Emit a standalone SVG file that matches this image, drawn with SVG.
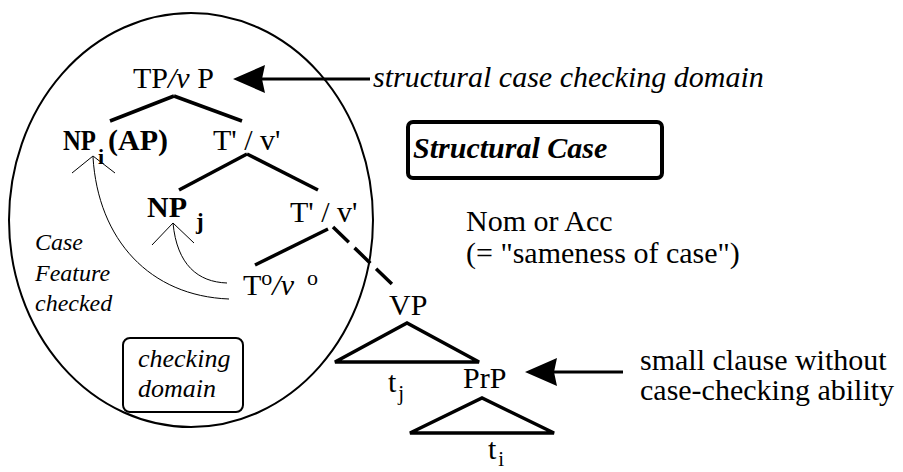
<svg xmlns="http://www.w3.org/2000/svg" width="903" height="472" viewBox="0 0 903 472" font-family="'Liberation Serif', 'DejaVu Serif', serif">
<style>
text{font-family:"Liberation Serif","DejaVu Serif",serif;fill:#000;font-size:30px}
.b{font-weight:bold}
.it{font-style:italic}
.sm{font-size:24px;font-style:italic}
.edge{stroke:#000;stroke-width:3.5;fill:none}
.thin{stroke:#000;stroke-width:1;fill:none}
.head{fill:#000;stroke:none}
</style>
<rect width="903" height="472" fill="#fff"/>
<g id="domain-ellipse">
<ellipse cx="191" cy="220" rx="182" ry="207" fill="none" stroke="#000" stroke-width="2"/>
</g>
<g id="connectors">
<line class="edge" x1="174" y1="96" x2="110" y2="121"/>
<line class="edge" x1="174" y1="96" x2="242" y2="121"/>
<line class="edge" x1="247" y1="154" x2="179" y2="190"/>
<line class="edge" x1="247" y1="154" x2="318" y2="190"/>
<line class="edge" x1="328" y1="229" x2="255" y2="265"/>
<line class="edge" x1="333" y1="227" x2="397" y2="289" stroke-dasharray="22 8"/>
<polygon class="edge" points="335,362 407,323 479,362" stroke-linejoin="miter"/>
<polygon class="edge" points="410,433 482,398 554,433" stroke-linejoin="miter"/>
<path class="thin" d="M93 157 C98 240 150 296 229 299"/>
<polyline class="thin" points="72,173 93,156 115,173"/>
<path class="thin" d="M173 223 C177 265 198 282 227 283"/>
<polyline class="thin" points="152,245 173,223 194,243"/>
<polygon class="head" points="233,79 265,65 262,79 265,93"/>
<line x1="262" y1="79" x2="370" y2="79" stroke="#000" stroke-width="3"/>
<polygon class="head" points="525,372 557,358 554,372 557,386"/>
<line x1="554" y1="372" x2="623" y2="372" stroke="#000" stroke-width="3"/>
</g>
<g id="TP">
<text x="133" y="88">TP<tspan class="it">/v</tspan> P</text>
</g>
<g id="NPi">
<text class="b" y="150"><tspan x="63" textLength="33" lengthAdjust="spacingAndGlyphs">NP</tspan><tspan x="98" y="164" style="font-size:22px">i</tspan><tspan x="108" y="150">(AP)</tspan></text>
</g>
<g id="Tbar1">
<text x="213" y="150">T' / v'</text>
</g>
<g id="NPj">
<text class="b" x="147" y="217">NP<tspan font-size="23" dx="9" dy="12">j</tspan></text>
</g>
<g id="Tbar2">
<text x="290" y="222">T' / v'</text>
</g>
<g id="T0">
<text x="243" y="295">T<tspan font-size="22" dy="-10">o</tspan><tspan class="it" dy="10">/v</tspan><tspan font-size="22" dx="13" dy="-10">o</tspan></text>
</g>
<g id="case-feature">
<text class="sm" x="35" y="250">Case</text>
<text class="sm" x="35" y="281">Feature</text>
<text class="sm" x="35" y="311">checked</text>
</g>
<g id="checking-domain">
<rect x="123" y="338" width="120" height="74" rx="7" fill="none" stroke="#000" stroke-width="2"/>
<text class="it" x="138" y="367" style="font-size:26px">checking</text>
<text class="it" x="138" y="397" style="font-size:26px">domain</text>
</g>
<g id="label-structural">
<text class="it" x="373" y="87">structural case checking domain</text>
</g>
<g id="structural-case">
<rect x="408" y="122" width="254" height="56" rx="5" fill="none" stroke="#000" stroke-width="4"/>
<text class="b it" x="413" y="158">Structural Case</text>
</g>
<g id="nom-acc">
<text x="466" y="231">Nom or Acc</text>
<text x="466" y="263">(= "sameness of case")</text>
</g>
<g id="VP">
<text x="389" y="315">VP</text>
</g>
<g id="tj">
<text x="388" y="392">t<tspan font-size="21" dx="2" dy="8">j</tspan></text>
</g>
<g id="PrP">
<text x="463" y="388">PrP</text>
</g>
<g id="ti">
<text x="488" y="459">t<tspan font-size="21" dx="2" dy="7">i</tspan></text>
</g>
<g id="small-clause">
<text x="640" y="370">small clause without</text>
<text x="640" y="400">case-checking ability</text>
</g>
</svg>
